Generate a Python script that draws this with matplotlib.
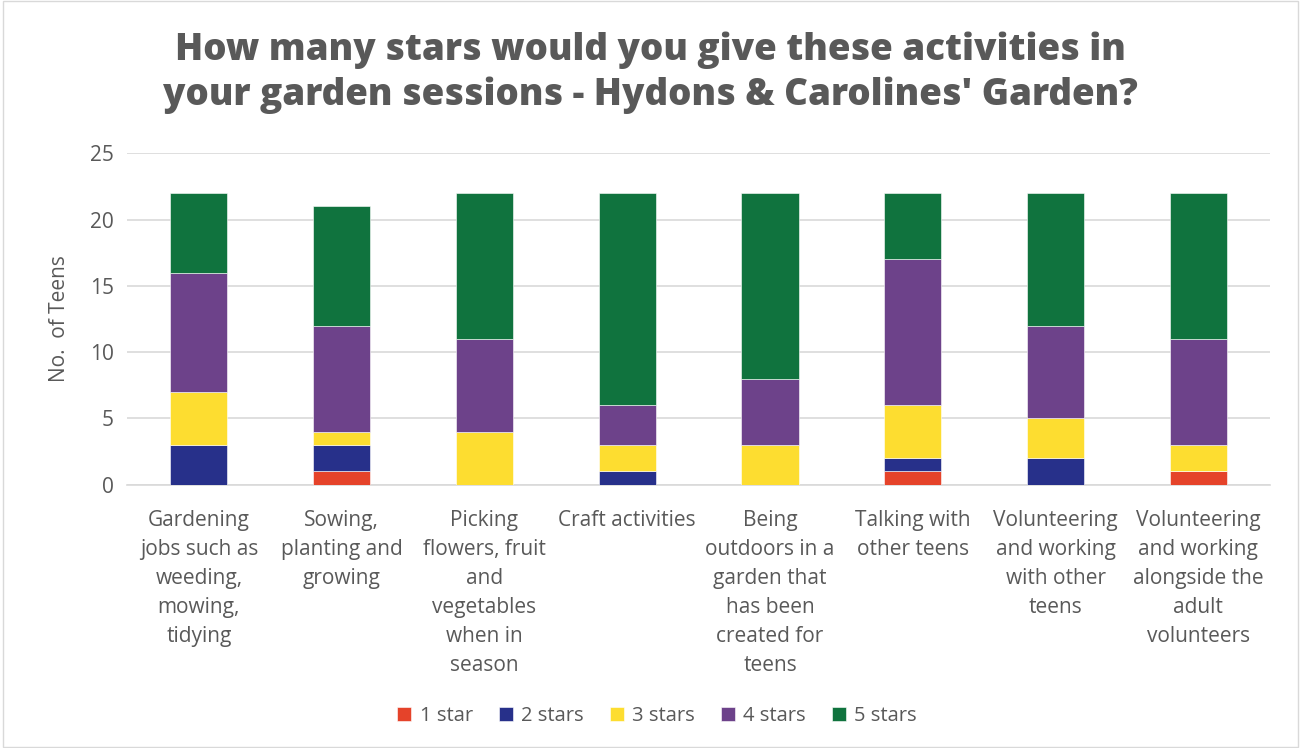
import matplotlib
matplotlib.use("Agg")
import matplotlib.pyplot as plt
import numpy as np

categories = ["Gardening\njobs such as\nweeding,\nmowing,\ntidying",
              "Sowing,\nplanting and\ngrowing",
              "Picking\nflowers, fruit\nand\nvegetables\nwhen in\nseason",
              "Craft activities",
              "Being\noutdoors in a\ngarden that\nhas been\ncreated for\nteens",
              "Talking with\nother teens",
              "Volunteering\nand working\nwith other\nteens",
              "Volunteering\nand working\nalongside the\nadult\nvolunteers"]
star1 = [0, 1, 0, 0, 0, 1, 0, 1]
star2 = [3, 2, 0, 1, 0, 1, 2, 0]
star3 = [4, 1, 4, 2, 3, 4, 3, 2]
star4 = [9, 8, 7, 3, 5, 11, 7, 8]
star5 = [6, 9, 11, 16, 14, 5, 10, 11]
series = [star1, star2, star3, star4, star5]
labels = ["1 star", "2 stars", "3 stars", "4 stars", "5 stars"]
colors = ["#E5432A", "#27308A", "#FDDD30", "#6D428A", "#10733E"]

fig = plt.figure(figsize=(13.01, 7.48), dpi=100)
ax = fig.add_axes([0.098, 0.352, 0.878, 0.443])

x = np.arange(len(categories))
bottom = np.zeros(len(categories))
for vals, lab, col in zip(series, labels, colors):
    ax.bar(x, vals, 0.4, bottom=bottom, color=col, label=lab,
           edgecolor="white", linewidth=0.4, zorder=3)
    bottom += np.array(vals)

ax.set_xlim(-0.5, len(categories) - 0.5)
ax.set_ylim(0, 25)
ax.set_yticks(range(0, 26, 5))
ax.grid(axis="y", color="#D9D9D9", linewidth=1.2, zorder=0)
for s in ["top", "right", "left"]:
    ax.spines[s].set_visible(False)
ax.spines["bottom"].set_color("#D9D9D9")
ax.spines["bottom"].set_linewidth(1.2)
ax.tick_params(axis="y", length=0, labelsize=15, labelcolor="#595959", pad=10)
ax.tick_params(axis="x", length=0, labelsize=15, labelcolor="#595959", pad=18)
ax.set_xticks(x)
ax.set_xticklabels(categories, fontfamily="Open Sans", linespacing=1.5, va="top")
for t in ax.get_yticklabels():
    t.set_fontfamily("Open Sans")
ax.set_ylabel("No.  of Teens", fontsize=15, color="#595959", fontfamily="Open Sans", labelpad=14)

fig.suptitle("How many stars would you give these activities in\nyour garden sessions - Hydons & Carolines' Garden?",
             fontsize=26.5, fontweight="heavy", color="#595959", fontfamily="Open Sans",
             y=0.958, linespacing=1.28)

leg = fig.legend(loc="center", bbox_to_anchor=(0.505, 0.043), ncol=5, frameon=False,
                 handlelength=0.7, handleheight=0.7, columnspacing=1.3,
                 handletextpad=0.4, prop={"family": "Open Sans", "size": 14.5})
for t in leg.get_texts():
    t.set_color("#595959")

fig.patches.append(plt.Rectangle((0.002, 0.002), 0.996, 0.996, transform=fig.transFigure,
                                 fill=False, edgecolor="#D9D9D9", linewidth=1))

fig.savefig("out.png", dpi=100, facecolor="white")
